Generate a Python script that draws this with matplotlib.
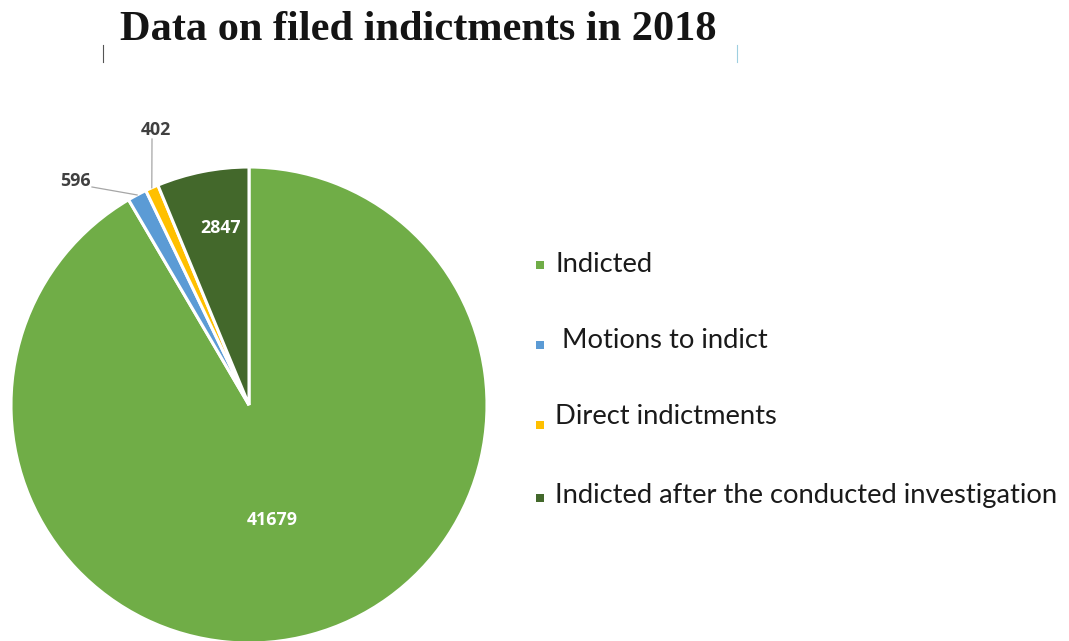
import numpy as np
import matplotlib
matplotlib.use('Agg')
import matplotlib.pyplot as plt
from matplotlib.patches import Rectangle

#################################################

Categories  = ['Indicted', ' Motions to indict', 'Direct indictments',
               'Indicted after the conducted investigation']
Values      = [41679, 596, 402, 2847]
Colors      = ['#70AD47', '#5B9BD5', '#FFC000', '#43682B']
Title       = 'Data on filed indictments in 2018'

#################################################

W, H = 1069, 641
fig = plt.figure(figsize=(W/100, H/100), dpi=100)

# pie axes: centre (249,405) px, radius 238 px
cx, cy, r = 249, 405, 238
ax = fig.add_axes([(cx-r)/W, (H-cy-r)/H, 2*r/W, 2*r/H])
wedges, _ = ax.pie(Values, colors=Colors, startangle=90, counterclock=False,
                   radius=1, wedgeprops=dict(edgecolor='white', linewidth=2.2))
ax.set_xlim(-1, 1)
ax.set_ylim(-1, 1)
ax.set_aspect('equal')
ax.axis('off')

total = float(sum(Values))
angles = []
start = 90.0
for v in Values:
    sweep = 360.0*v/total
    angles.append(np.deg2rad(start - sweep/2))
    start -= sweep

lab_font = dict(family=['Open Sans', 'DejaVu Sans'], weight='bold', fontsize=12.8)

# inside labels
ax.text(0.49*np.cos(angles[0]) - 0.03, 0.49*np.sin(angles[0]) - 0.01, str(Values[0]),
        color='white', ha='center', va='center', **lab_font)
ax.text(0.76*np.cos(angles[3]) + 0.03, 0.76*np.sin(angles[3]), str(Values[3]),
        color='white', ha='center', va='center', **lab_font)

# outside labels with leader lines
def to_ax(px, py):
    return ((px - cx)/r, (cy - py)/r)

for val, ang, lab_px, elbow_px in [(Values[1], angles[1], (75, 181), (92, 187)),
                                   (Values[2], angles[2], (156, 130), (152, 139))]:
    ex, ey = 1.0*np.cos(ang), 1.0*np.sin(ang)
    bx, by = to_ax(*elbow_px)
    ax.plot([bx, ex], [by, ey], color='#A6A6A6', lw=0.9, clip_on=False)
    lx, ly = to_ax(*lab_px)
    ax.text(lx, ly, str(val), color='#404040', ha='center', va='center', **lab_font)

# legend (entries placed as in the original layout)
leg_text_y = [265, 341, 417, 496]
leg_mark_y = [265, 345, 425, 498]
for cat, col, ty, my in zip(Categories, Colors, leg_text_y, leg_mark_y):
    fig.add_artist(Rectangle((536/W, 1 - (my + 4)/H), 8/W, 8/H,
                             facecolor=col, edgecolor='none', transform=fig.transFigure))
    fig.text(555/W, 1 - ty/H, cat, ha='left', va='center',
             family='Lato', fontsize=19.7, color='#1a1a1a')

# title
fig.text(418/W, 1 - 30/H, Title, ha='center', va='center',
         family='Liberation Serif', weight='bold', fontsize=30.5, color='#141414')
fig.add_artist(plt.Line2D([103/W, 103/W], [1-45/H, 1-62/H], color='#555555', lw=0.8))
fig.add_artist(plt.Line2D([737/W, 737/W], [1-45/H, 1-62/H], color='#9ecfe0', lw=0.8))

plt.savefig('out.png', dpi=100)
